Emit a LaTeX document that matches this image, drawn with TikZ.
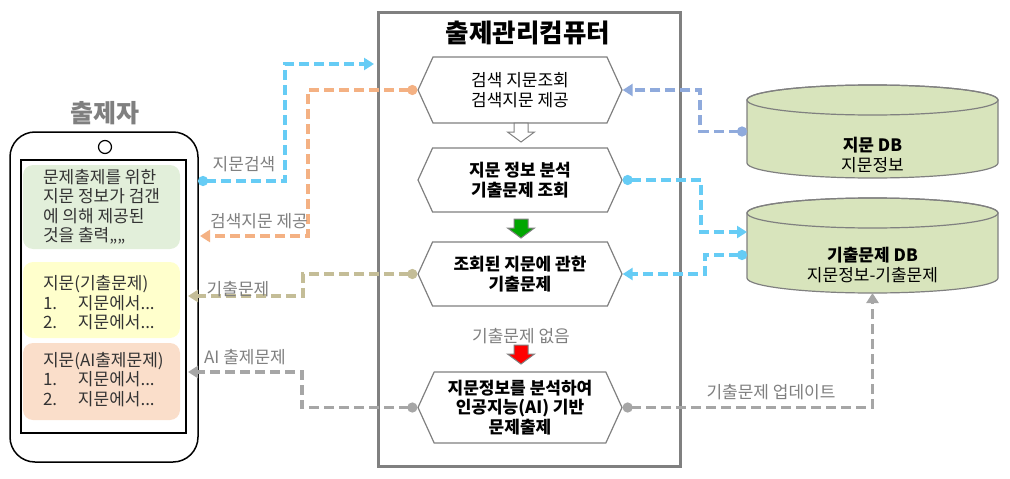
\documentclass[tikz,border=0pt]{standalone}
\usepackage{fontspec}
\setmainfont{Noto Sans CJK KR}
\usetikzlibrary{arrows.meta,shapes.symbols,calc}

\definecolor{skyline}{RGB}{102,204,245}
\definecolor{orangeline}{RGB}{244,177,131}
\definecolor{steelline}{RGB}{143,170,220}
\definecolor{khakiline}{RGB}{196,189,151}
\definecolor{grayline}{RGB}{166,166,166}
\definecolor{framegray}{RGB}{128,128,128}
\definecolor{labelgray}{RGB}{127,127,127}
\definecolor{msggreen}{RGB}{226,239,218}
\definecolor{msgyellow}{RGB}{255,255,204}
\definecolor{msgpeach}{RGB}{250,222,202}
\definecolor{dbgreen}{RGB}{216,228,188}

% cylinder drawn round a body node
\newcommand{\dbcyl}[1]{%
  \filldraw[fill=dbgreen, draw=framegray, line width=1.2pt]
    (#1.north west) -- (#1.south west)
    arc[start angle=180, end angle=360, x radius=125.5pt, y radius=15pt]
    -- (#1.north east)
    arc[start angle=0, end angle=180, x radius=125.5pt, y radius=15pt] -- cycle;
  \draw[framegray, line width=1.2pt] (#1.north) ellipse [x radius=125.5pt, y radius=15pt];}

\begin{document}
\begin{tikzpicture}[x=1pt,y=-1pt,
  hexa/.style={signal, signal to=east and west, signal from=nowhere, signal pointer angle=131,
    draw=framegray, line width=1.2pt, fill=white, minimum width=204, inner sep=0pt,
    align=center, font=\fontsize{17}{19.5}\selectfont},
  msgbox/.style={rounded corners=10pt, minimum width=157},
  msgtext/.style={anchor=west, align=left, inner sep=0pt, text=black!80,
    font=\fontsize{17}{19.5}\selectfont},
  dbbody/.style={minimum width=251, inner sep=0pt, outer sep=0pt},
  dbtext/.style={align=center, font=\fontsize{17}{19.5}\selectfont},
  flow/.style={line width=3.5pt, dash pattern=on 10pt off 5pt,
    {Circle[length=10pt]}-{Triangle[length=10pt,width=12pt]}},
  lbl/.style={text=labelgray, font=\fontsize{17}{19}\selectfont}]
  \useasboundingbox (0,0) rectangle (1010,479);

  % 출제자 (phone)
  \node[text=labelgray, font=\fontsize{25}{28}\selectfont\bfseries] (usertitle) at (105,113) {출제자};
  \draw[line width=1.5pt, rounded corners=25pt] (10,132) rectangle (198,462);
  \draw[line width=1.2pt] (105,147) circle (6.5);
  \node[draw, line width=2pt, minimum width=165, minimum height=273, inner sep=0pt] (screen) at (103.5,296.5) {};
  \node[msgbox, fill=msggreen, minimum height=84] (msg) at (101.5,207) {};
  \node[msgtext] at ($(msg.west)+(20,0)$) {문제출제를 위한\\지문 정보가 검갠\\에 의해 제공된\\것을 출력,,,,};
  \node[msgbox, fill=msgyellow, minimum height=76] (past) at (101.5,300) {};
  \node[msgtext] at ($(past.west)+(20,3)$) {지문(기출문제)\\\makebox[35pt][l]{1.}지문에서...\\\makebox[35pt][l]{2.}지문에서...};
  \node[msgbox, fill=msgpeach, minimum height=77] (ai) at (101.5,381.5) {};
  \node[msgtext] at ($(ai.west)+(20,-2)$) {지문(AI출제문제)\\\makebox[35pt][l]{1.}지문에서...\\\makebox[35pt][l]{2.}지문에서...};

  % 출제관리컴퓨터
  \node[draw=framegray, line width=3pt, minimum width=302, minimum height=454, inner sep=0pt] (frame) at (529,239) {};
  \node[font=\fontsize{25.5}{28}\selectfont\bfseries] (comptitle) at (528,33) {출제관리컴퓨터};
  \node[hexa, minimum height=66] (search) at (520,90) {검색 지문조회\\검색지문 제공};
  \node[hexa, minimum height=64, font=\fontsize{17}{19.5}\selectfont\bfseries] (analyse) at (520,180) {지문 정보 분석\\기출문제 조회};
  \node[hexa, minimum height=64, font=\fontsize{17}{19.5}\selectfont\bfseries] (found) at (520,274) {조회된 지문에 관한\\기출문제};
  \node[hexa, minimum height=71, font=\fontsize{17}{19.5}\selectfont\bfseries] (generate) at (520,407.5) {지문정보를 분석하여\\인공지능(AI) 기반\\문제출제};
  \node[lbl] (nopast) at (521,336) {기출문제 없음};

  % block arrows between steps
  \foreach \ytop/\fillc/\drawc in {123/white/framegray, 219/green!65!black/framegray, 345/red/framegray}
    \draw[fill=\fillc, draw=\drawc, line width=1pt]
      (514,\ytop) -- (528,\ytop) -- (528,\ytop+9) -- (534.5,\ytop+9) -- (521,\ytop+19)
      -- (507.5,\ytop+9) -- (514,\ytop+9) -- cycle;

  % databases
  \node[dbbody, minimum height=63] (textdb) at (872.5,131.5) {};
  \dbcyl{textdb}
  \node[dbtext] at ($(textdb.center)+(0,23.5)$) {\textbf{지문 DB}\\지문정보};
  \node[dbbody, minimum height=65] (pastdb) at (872.5,245.5) {};
  \dbcyl{pastdb}
  \node[dbtext] at ($(pastdb.center)+(0,19.5)$) {\textbf{기출문제 DB}\\지문정보-기출문제};

  % connector ends
  \coordinate (userout) at (198,181);
  \coordinate (userin) at (200,236);
  \coordinate (pastin) at (188,296);
  \coordinate (aiin) at (188,372);
  \coordinate (framein) at (374,64);
  \coordinate (pastdbin) at (747,232);
  \coordinate (pastdbout) at (747,255);
  \coordinate (pastdbfoot) at ($(pastdb.south)+(0,15)$);

  % connectors
  \draw[flow, skyline] (userout) -- (285,181) |- (framein);
  \node[lbl] at (244,164) {지문검색};
  \draw[flow, orangeline] (search.west) -- (308,90) |- (userin);
  \node[lbl] at (259,221) {검색지문 제공};
  \draw[flow, steelline] (textdb.west) -- (700,131.5) |- (search.east);
  \draw[flow, skyline] (analyse.east) -- (701,180) |- (pastdbin);
  \draw[flow, skyline] (pastdbout) -- (705,255) |- (found.east);
  \draw[flow, khakiline] (found.west) -- (303,274) |- (pastin);
  \node[lbl] at (238,289) {기출문제};
  \draw[flow, grayline] (generate.west) -- (302,407.5) |- (aiin);
  \node[lbl] at (245,357) {AI 출제문제};
  \draw[flow, grayline] (generate.east) -| (pastdbfoot);
  \node[lbl] at (771,392) {기출문제 업데이트};
\end{tikzpicture}
\end{document}
